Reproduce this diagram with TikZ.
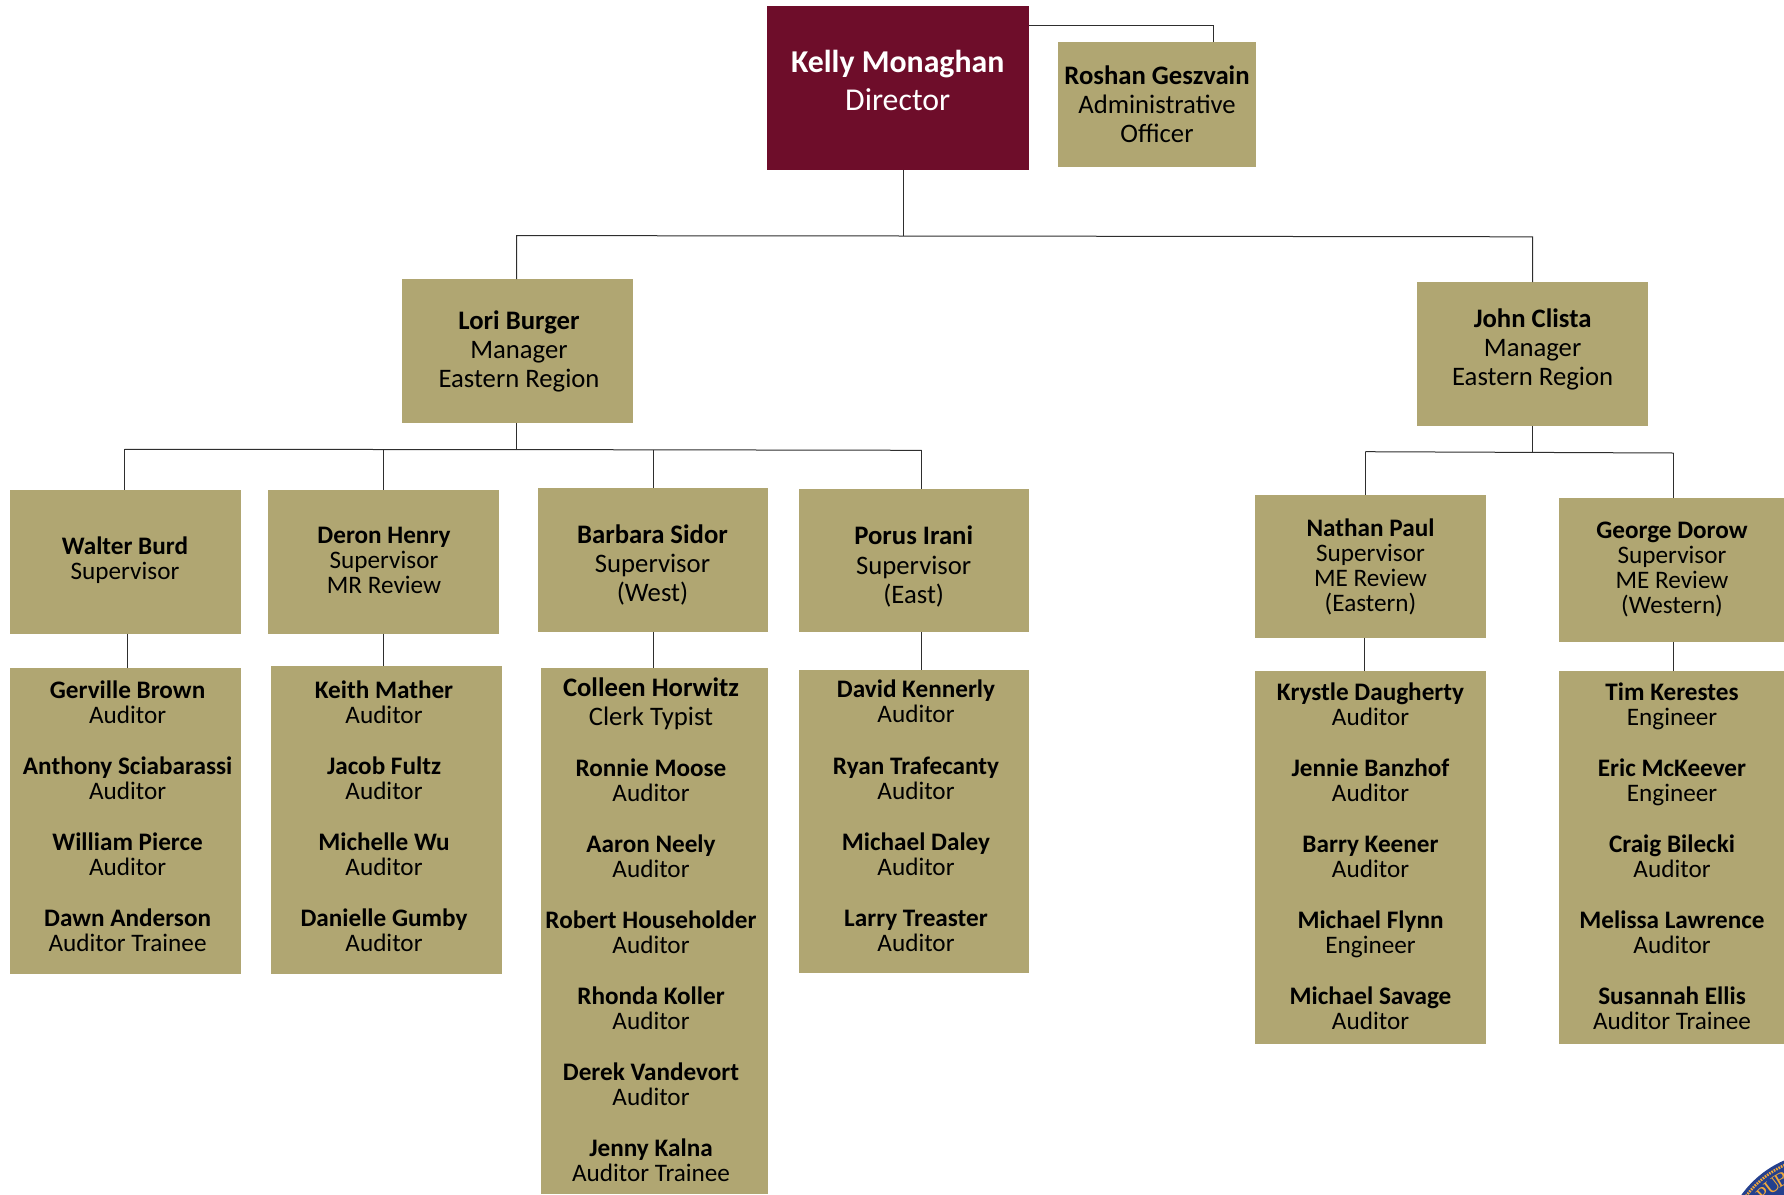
\documentclass[tikz,border=0pt]{standalone}
\usepackage{fontspec}
\usetikzlibrary{calc}
\setmainfont{Carlito}
\newfontfamily\sealfont{Liberation Serif}
\lineskiplimit=-50pt
\normallineskiplimit=-50pt
\definecolor{gold}{HTML}{B0A672}
\definecolor{wine}{HTML}{6E0D2A}
\definecolor{conn}{HTML}{2E2E2E}
\definecolor{sealblue}{HTML}{24408E}
\definecolor{sealgold}{HTML}{F2A93B}
\tikzset{
  x=1pt,y=-1pt,
  pbox/.style={anchor=north west,inner sep=0pt,outer sep=0pt,draw=none,fill=gold},
  wbox/.style={anchor=north west,inner sep=0pt,outer sep=0pt,draw=none,fill=wine},
  conline/.style={draw=conn,line width=1pt},
  ptxt/.style={anchor=north,inner sep=0pt,outer sep=0pt,align=center,text=black},
  small/.style={ptxt,font=\fontsize{25.2pt}{25pt}\selectfont},
  big/.style={ptxt,font=\fontsize{26.7pt}{29.3pt}\selectfont},
}
\newcommand\bx[5][pbox]{\node[#1,minimum width=#4pt,minimum height=#5pt] (#2) at #3 {};}
% name, x, first baseline, style, text
\newcommand\tx[5]{\node[#4] (#1) at (#2,#3-30) {\rule{0pt}{30pt}#5};}
\newcommand\nm[1]{\textbf{#1}}
\begin{document}
\begin{tikzpicture}
\useasboundingbox (0,0) rectangle (1784,1194);
% seal
\begin{scope}
\clip (0,0) rectangle (1784,1194);
\fill[sealblue] (1825,1255) circle (103);
\draw[sealgold,line width=2.6pt,dash pattern=on 1.6pt off 1.1pt] (1825,1255) circle (98.5);
\foreach \a/\l in {135/P,127.5/U,120/B}{
  \pgfmathsetmacro\rr{\a-90}
  \node[text=sealgold,inner sep=0pt,font=\sealfont\fontsize{20pt}{20pt}\selectfont,rotate=\rr] (seal\l) at ($(1825,1255)+(\a:87pt)$) {\l};
}
\end{scope}
% boxes
\bx[wbox]{kelly}{(767,6.3)}{261.6}{163.2}
\bx{roshan}{(1058,42)}{198}{124.7}
\bx{lori}{(401.6,279)}{231}{144}
\bx{john}{(1416.6,282)}{231}{144}
\bx{walter}{(10,490)}{231}{143.5}
\bx{deron}{(268,490)}{231}{143.5}
\bx{barbara}{(538,488)}{230}{144.2}
\bx{porus}{(799,489)}{230}{143.2}
\bx{nathan}{(1255,495)}{231}{143}
\bx{george}{(1559,498)}{225}{144}
\bx{gerville}{(10,668)}{231}{306}
\bx{keith}{(271,666)}{231}{308}
\bx{colleen}{(540.5,668)}{227.5}{526}
\bx{david}{(799,670)}{230}{303}
\bx{krystle}{(1255,671)}{231}{372.5}
\bx{tim}{(1559,671)}{225}{372.5}
% connectors
\coordinate (rc) at (1213,25);
\draw[conline] (kelly.north east |- rc) -- (rc) -- (rc |- roshan.north);
\coordinate (bk) at (903.4,236);
\coordinate (bl) at (516.6,235.6);
\coordinate (bj) at (1532.6,236.8);
\draw[conline] (bk |- kelly.south) -- (bk);
\draw[conline] (bl |- lori.north) -- (bl) -- (bk) -- (bj) -- (bj |- john.north);
\coordinate (l0) at (516.7,449.6);
\coordinate (l1) at (124.5,449.3);
\coordinate (l2) at (383.3,449.5);
\coordinate (l3) at (653,449.8);
\coordinate (l4) at (921.6,450.3);
\draw[conline] (l0 |- lori.south) -- (l0);
\draw[conline] (l1) -- (l2) -- (l0) -- (l3) -- (l4);
\draw[conline] (l1) -- (l1 |- walter.north);
\draw[conline] (l2) -- (l2 |- deron.north);
\draw[conline] (l3) -- (l3 |- barbara.north);
\draw[conline] (l4) -- (l4 |- porus.north);
\coordinate (j0) at (1532.6,452.4);
\coordinate (j1) at (1365.4,451.7);
\coordinate (j2) at (1673.7,453);
\draw[conline] (j0 |- john.south) -- (j0);
\draw[conline] (j1) -- (j0) -- (j2);
\draw[conline] (j1) -- (j1 |- nathan.north);
\draw[conline] (j2) -- (j2 |- george.north);
\coordinate (d1) at (127.3,650);
\coordinate (d2) at (383.3,650);
\coordinate (d3) at (653,650);
\coordinate (d4) at (921.6,650);
\coordinate (d5) at (1364.6,650);
\coordinate (d6) at (1673.7,650);
\draw[conline] (d1 |- walter.south) -- (d1 |- gerville.north);
\draw[conline] (d2 |- deron.south) -- (d2 |- keith.north);
\draw[conline] (d3 |- barbara.south) -- (d3 |- colleen.north);
\draw[conline] (d4 |- porus.south) -- (d4 |- david.north);
\draw[conline] (d5 |- nathan.south) -- (d5 |- krystle.north);
\draw[conline] (d6 |- george.south) -- (d6 |- tim.north);
% top texts
\node[ptxt,text=white,font=\fontsize{31.8pt}{38.2pt}\selectfont] (tkelly) at (897.7,42.7) {\rule{0pt}{30pt}\nm{Kelly Monaghan}\\Director};
\tx{troshan}{1157}{84}{big}{\nm{Roshan Geszvain}\\Administrative\\Officer}
\tx{tlori}{519}{329.3}{big}{\nm{Lori Burger}\\Manager\\Eastern Region}
\tx{tjohn}{1532.6}{327}{big}{\nm{John Clista}\\Manager\\Eastern Region}
\tx{twalter}{125}{554}{small}{\nm{Walter Burd}\\Supervisor}
\tx{tderon}{384}{543.6}{small}{\nm{Deron Henry}\\Supervisor\\MR Review}
\tx{tbarbara}{652.5}{543}{big}{\nm{Barbara Sidor}\\Supervisor\\(West)}
\tx{tporus}{913.7}{544.8}{big}{\nm{Porus Irani}\\Supervisor\\(East)}
\tx{tnathan}{1370.5}{536.5}{small}{\nm{Nathan Paul}\\Supervisor\\ME Review\\(Eastern)}
\tx{tgeorge}{1672}{538}{small}{\nm{George Dorow}\\Supervisor\\ME Review\\(Western)}
% column 1
\tx{p11}{127.6}{698.3}{small}{\nm{Gerville Brown}\\Auditor}
\tx{p12}{127.6}{774.5}{small}{\nm{Anthony Sciabarassi}\\Auditor}
\tx{p13}{127.6}{850.4}{small}{\nm{William Pierce}\\Auditor}
\tx{p14}{127.6}{926}{small}{\nm{Dawn Anderson}\\Auditor Trainee}
% column 2
\tx{p21}{384}{698.3}{small}{\nm{Keith Mather}\\Auditor}
\tx{p22}{384}{774.5}{small}{\nm{Jacob Fultz}\\Auditor}
\tx{p23}{384}{850.4}{small}{\nm{Michelle Wu}\\Auditor}
\tx{p24}{384}{926}{small}{\nm{Danielle Gumby}\\Auditor}
% column 3
\tx{p31}{651}{696}{big}{\nm{Colleen Horwitz}\\Clerk Typist}
\tx{p32}{651}{776.5}{small}{\nm{Ronnie Moose}\\Auditor}
\tx{p33}{651}{852}{small}{\nm{Aaron Neely}\\Auditor}
\tx{p34}{651}{928.2}{small}{\nm{Robert Householder}\\Auditor}
\tx{p35}{651}{1004}{small}{\nm{Rhonda Koller}\\Auditor}
\tx{p36}{651}{1080}{small}{\nm{Derek Vandevort}\\Auditor}
\tx{p37}{651}{1156}{small}{\nm{Jenny Kalna}\\Auditor Trainee}
% column 4
\tx{p41}{916}{697.2}{small}{\nm{David Kennerly}\\Auditor}
\tx{p42}{916}{774.2}{small}{\nm{Ryan Trafecanty}\\Auditor}
\tx{p43}{916}{850.4}{small}{\nm{Michael Daley}\\Auditor}
\tx{p44}{916}{926}{small}{\nm{Larry Treaster}\\Auditor}
% column 5
\tx{p51}{1370.5}{700.6}{small}{\nm{Krystle Daugherty}\\Auditor}
\tx{p52}{1370.5}{776.8}{small}{\nm{Jennie Banzhof}\\Auditor}
\tx{p53}{1370.5}{852}{small}{\nm{Barry Keener}\\Auditor}
\tx{p54}{1370.5}{928}{small}{\nm{Michael Flynn}\\Engineer}
\tx{p55}{1370.5}{1004.3}{small}{\nm{Michael Savage}\\Auditor}
% column 6
\tx{p61}{1672}{700.6}{small}{\nm{Tim Kerestes}\\Engineer}
\tx{p62}{1672}{776.8}{small}{\nm{Eric McKeever}\\Engineer}
\tx{p63}{1672}{852}{small}{\nm{Craig Bilecki}\\Auditor}
\tx{p64}{1672}{928}{small}{\nm{Melissa Lawrence}\\Auditor}
\tx{p65}{1672}{1004.3}{small}{\nm{Susannah Ellis}\\Auditor Trainee}
\end{tikzpicture}
\end{document}
